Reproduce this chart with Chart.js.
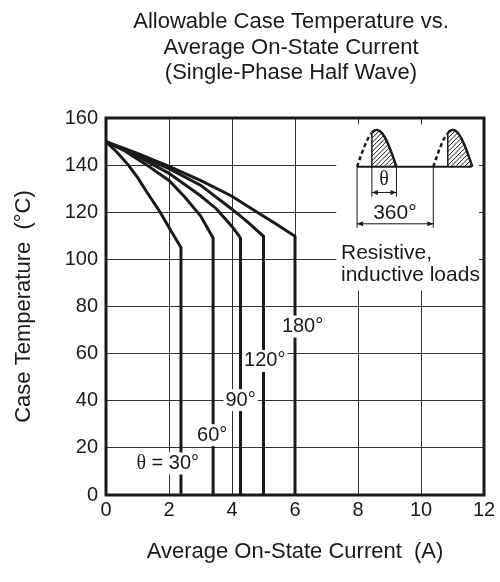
<!DOCTYPE html>
<html>
<head>
<meta charset="utf-8">
<script src="https://cdn.jsdelivr.net/npm/chart.js@4.4.0/dist/chart.umd.min.js"></script>
<style>
  html, body { margin: 0; padding: 0; background: #fff; }
  #wrap { width: 500px; height: 582px; }
</style>
</head>
<body>
<div id="wrap"><canvas id="caseTempChart" width="500" height="582"></canvas></div>
<script>
// Case temperature vs. average current, one curve per conduction angle
const current30 = [0, 0.35, 0.71, 1.0, 1.3, 1.72, 2.0, 2.38, 2.38];
const temp30 = [150, 145.5, 140, 134.8, 128.5, 120, 113.5, 105, 0];
const current60 = [0, 0.6, 1.3, 2.0, 2.5, 3.0, 3.4, 3.4];
const temp60 = [150, 146, 140, 133.5, 126.5, 118.5, 109.1, 0];
const current90 = [0, 1, 2, 3, 3.5, 4, 4.27, 4.27];
const temp90 = [150, 143.8, 136.5, 127, 121.5, 114, 109.1, 0];
const current120 = [0, 1, 2, 3, 4, 4.5, 5, 5];
const temp120 = [150, 144.3, 138.5, 131.5, 121.3, 115.8, 109.8, 0];
const current180 = [0, 1, 2, 3, 4, 4.8, 5.4, 6, 6];
const temp180 = [150, 145, 139.5, 133.5, 126.8, 120, 115, 109.8, 0];

const angleNames = ['30°', '60°', '90°', '120°', '180°'];
const labelX = [1.96, 3.37, 4.27, 5.04, 6.24];
const labelY = [13.4, 25.4, 40.3, 56.9, 71.5];

const xTicks = [0, 2, 4, 6, 8, 10, 12];
const yTicks = [0, 20, 40, 60, 80, 100, 120, 140, 160];

const titleLines = ['Allowable Case Temperature vs.', 'Average On-State Current', '(Single-Phase Half Wave)'];

const FONT = '"Liberation Sans", Arial, sans-serif';
const SERIF = '"Liberation Serif", "DejaVu Serif", serif';
const INK = '#1a1a1a';

function toPoints(xs, ys) {
  return xs.map((x, i) => ({ x: x, y: ys[i] }));
}

const series = [
  toPoints(current30, temp30),
  toPoints(current60, temp60),
  toPoints(current90, temp90),
  toPoints(current120, temp120),
  toPoints(current180, temp180)
];

// text with a white patch behind it, parts can mix fonts
function boxedText(ctx, parts, cx, cy) {
  let w = 0;
  parts.forEach(p => { ctx.font = p.font; p.w = ctx.measureText(p.text).width; w += p.w; });
  ctx.fillStyle = '#fff';
  ctx.fillRect(cx - w / 2 - 2, cy - 11, w + 4, 22);
  ctx.fillStyle = INK;
  ctx.textAlign = 'left';
  ctx.textBaseline = 'middle';
  let x = cx - w / 2;
  parts.forEach(p => { ctx.font = p.font; ctx.fillText(p.text, x, cy); x += p.w; });
}

function arrowHead(ctx, x, y, dir) {
  ctx.beginPath();
  ctx.moveTo(x, y);
  ctx.lineTo(x + dir * 6, y - 2.5);
  ctx.lineTo(x + dir * 6, y + 2.5);
  ctx.closePath();
  ctx.fill();
}

function dimLine(ctx, xa, xb, y) {
  ctx.lineWidth = 1;
  ctx.beginPath();
  ctx.moveTo(xa, y);
  ctx.lineTo(xb, y);
  ctx.stroke();
  arrowHead(ctx, xa, y, 1);
  arrowHead(ctx, xb, y, -1);
}

function halfWave(ctx, X0, X1, Xc, B, H) {
  const yAt = x => B - H * Math.sin(Math.PI * (x - X0) / (X1 - X0));
  // non-conducting part, dashed
  ctx.lineWidth = 2.5;
  ctx.setLineDash([4, 3]);
  ctx.beginPath();
  for (let x = X0; x <= Xc; x += 0.5) {
    if (x === X0) ctx.moveTo(x, yAt(x)); else ctx.lineTo(x, yAt(x));
  }
  ctx.stroke();
  ctx.setLineDash([]);
  // hatched conduction part
  ctx.save();
  ctx.beginPath();
  ctx.moveTo(Xc, B);
  for (let x = Xc; x <= X1; x += 0.5) ctx.lineTo(x, yAt(x));
  ctx.lineTo(X1, B);
  ctx.closePath();
  ctx.clip();
  ctx.lineWidth = 1;
  ctx.beginPath();
  for (let k = -60; k < 60; k += 4.5) {
    ctx.moveTo(Xc + k, B);
    ctx.lineTo(Xc + k + 60, B - 60);
  }
  ctx.stroke();
  ctx.restore();
  ctx.lineWidth = 2.5;
  ctx.beginPath();
  for (let x = Xc; x <= X1; x += 0.5) {
    if (x === Xc) ctx.moveTo(x, yAt(x)); else ctx.lineTo(x, yAt(x));
  }
  ctx.lineTo(X1, B);
  ctx.stroke();
  ctx.lineWidth = 1.5;
  ctx.beginPath();
  ctx.moveTo(Xc, B);
  ctx.lineTo(Xc, yAt(Xc));
  ctx.stroke();
}

const extras = {
  id: 'extras',
  afterDatasetsDraw(chart) {
    const ctx = chart.ctx;
    const xs = chart.scales.x;
    const ys = chart.scales.y;
    const px = v => xs.getPixelForValue(v);
    const py = v => ys.getPixelForValue(v);
    const area = chart.chartArea;

    ctx.save();
    ctx.strokeStyle = INK;
    ctx.fillStyle = INK;

    // curve labels
    series.forEach((s, i) => {
      const parts = i === 0
        ? [{ text: 'θ', font: `20px ${SERIF}` }, { text: ' = ' + angleNames[i], font: `20px ${FONT}` }]
        : [{ text: angleNames[i], font: `20px ${FONT}` }];
      boxedText(ctx, parts, px(labelX[i]), py(labelY[i]));
    });

    // waveform inset
    ctx.fillStyle = '#fff';
    ctx.fillRect(px(7.31), py(157.3), px(11.84) - px(7.31), py(86.7) - py(157.3));
    ctx.fillStyle = INK;
    const B = py(139.3);
    const H = B - py(154.9);
    ctx.lineWidth = 2;
    ctx.beginPath();
    ctx.moveTo(px(7.97), B);
    ctx.lineTo(px(11.61), B);
    ctx.stroke();
    halfWave(ctx, px(7.97), px(9.22), px(8.44), B, H);
    halfWave(ctx, px(10.39), px(11.63), px(10.85), B, H);

    ctx.lineWidth = 1;
    ctx.beginPath();
    [[8.44, 126.5], [9.22, 126.5], [7.97, 113.4], [10.39, 113.4]].forEach(([x, y]) => {
      ctx.moveTo(px(x), B);
      ctx.lineTo(px(x), py(y));
    });
    ctx.stroke();
    dimLine(ctx, px(8.44), px(9.22), py(128.4));
    dimLine(ctx, px(7.97), px(10.39), py(115.1));

    ctx.textAlign = 'center';
    ctx.textBaseline = 'middle';
    ctx.font = `20px ${SERIF}`;
    ctx.fillText('θ', px(8.83), py(133.9));
    ctx.font = `21px ${FONT}`;
    ctx.fillText('360°', px(9.17), py(119.4));
    ctx.textAlign = 'left';
    ctx.fillText('Resistive,', px(7.46), py(102.7));
    ctx.fillText('inductive loads', px(7.46), py(93.2));

    // heavy frame
    ctx.lineWidth = 3;
    ctx.strokeRect(area.left, area.top, area.right - area.left, area.bottom - area.top);

    // title
    ctx.font = `22px ${FONT}`;
    ctx.textAlign = 'center';
    const cx = (area.left + area.right) / 2 - 4;
    titleLines.forEach((t, i) => ctx.fillText(t, cx, 22 + i * 25.5));
    ctx.restore();
  }
};

new Chart(document.getElementById('caseTempChart'), {
  type: 'line',
  data: {
    datasets: series.map((s, i) => ({
      label: angleNames[i],
      data: s,
      borderColor: INK,
      borderWidth: 3,
      pointRadius: 0,
      tension: 0,
      fill: false
    }))
  },
  options: {
    responsive: false,
    animation: false,
    layout: { padding: { top: 118, right: 16, bottom: 0, left: 0 } },
    plugins: {
      legend: { display: false },
      tooltip: { enabled: false }
    },
    scales: {
      x: {
        type: 'linear',
        min: 0,
        max: 12,
        afterBuildTicks: axis => { axis.ticks = xTicks.map(v => ({ value: v })); },
        afterFit: axis => { axis.height = 87; },
        grid: { color: '#333', lineWidth: 1, drawTicks: false },
        border: { display: false },
        ticks: { color: INK, font: { family: FONT, size: 20 }, padding: 3, maxRotation: 0 },
        title: {
          display: true,
          text: 'Average On-State Current  (A)',
          color: INK,
          font: { family: FONT, size: 22 },
          padding: { top: 0, bottom: 17 }
        }
      },
      y: {
        type: 'linear',
        min: 0,
        max: 160,
        afterBuildTicks: axis => { axis.ticks = yTicks.map(v => ({ value: v })); },
        afterFit: axis => { axis.width = 106; },
        grid: { color: '#333', lineWidth: 1, drawTicks: false },
        border: { display: false },
        ticks: { color: INK, font: { family: FONT, size: 20 }, padding: 8 },
        title: {
          display: true,
          text: 'Case Temperature  (°C)',
          color: INK,
          font: { family: FONT, size: 22 },
          padding: { top: 11, bottom: 0 }
        }
      }
    }
  },
  plugins: [extras]
});
</script>
</body>
</html>
